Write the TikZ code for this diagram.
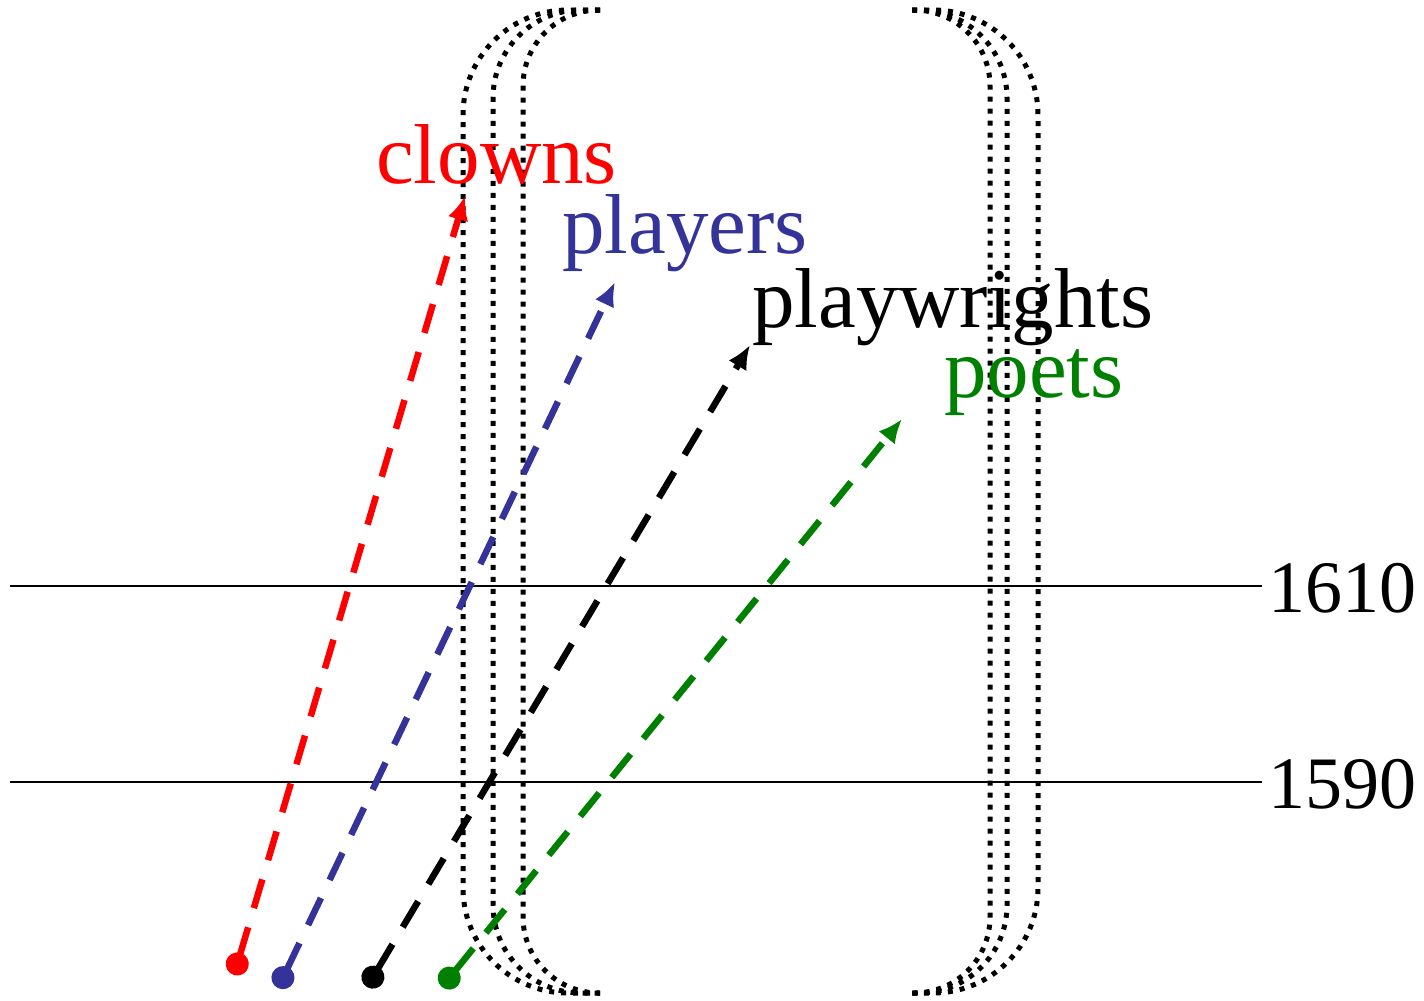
\documentclass[tikz,border=0pt]{standalone}
\usepackage{fontspec}
\setmainfont{Liberation Serif}
\usetikzlibrary{arrows.meta}
\definecolor{myred}{HTML}{FF0000}
\definecolor{myblue}{HTML}{333399}
\definecolor{mygreen}{HTML}{008000}
\tikzset{
  dotline/.style={line width=5pt, dash pattern=on 5pt off 7pt},
  flow/.style={line width=6.5pt, dash pattern=on 30pt off 20pt,
    {Circle[length=23pt]}-{Latex[length=24pt,width=21pt]}},
  lbl/.style={inner sep=0pt, anchor=base west, font=\fontsize{85}{100}\selectfont},
  yr/.style={inner sep=0pt, anchor=base west, font=\fontsize{74}{88}\selectfont},
  yline/.style={line width=1.5pt}
}
\begin{document}
\begin{tikzpicture}[x=1pt,y=-1pt]
\useasboundingbox (0,0) rectangle (1424,1001);
% brackets
\draw[dotline, rounded corners=105pt] (600,10) -- (463,10) -- (463,993) -- (600,993);
\draw[dotline, rounded corners=88pt] (600,10) -- (493,10) -- (493,993) -- (600,993);
\draw[dotline, rounded corners=76pt] (600,10) -- (523,10) -- (523,993) -- (600,993);
\draw[dotline, rounded corners=105pt] (912,10) -- (1038,10) -- (1038,993) -- (912,993);
\draw[dotline, rounded corners=88pt] (912,10) -- (1007,10) -- (1007,993) -- (912,993);
\draw[dotline, rounded corners=76pt] (912,10) -- (990,10) -- (990,993) -- (912,993);
% year lines
\coordinate (l1610a) at (10,586);
\coordinate (l1610b) at (1262,586);
\coordinate (l1590a) at (10,782);
\coordinate (l1590b) at (1262,782);
\draw[yline] (l1610a) -- (l1610b);
\draw[yline] (l1590a) -- (l1590b);
\node[yr] (y1610) at (1268,612) {1610};
\node[yr] (y1590) at (1268,808) {1590};
% labels
\node[lbl, text=myred] (clowns) at (376,183) {clowns};
\node[lbl, text=myblue] (players) at (562,253) {players};
\node[lbl, text=black] (playwrights) at (752,327) {playwrights};
\node[lbl, text=mygreen] (poets) at (944,397) {poets};
% arrows
\coordinate (sr) at (234,975); \coordinate (er) at (465,196);
\coordinate (sb) at (278,988); \coordinate (eb) at (615,282);
\coordinate (sk) at (367,987); \coordinate (ek) at (750,345);
\coordinate (sg) at (442,987); \coordinate (eg) at (902,419);
\draw[flow, myred] (sr) -- (er);
\draw[flow, myblue] (sb) -- (eb);
\draw[flow, black] (sk) -- (ek);
\draw[flow, mygreen] (sg) -- (eg);
\end{tikzpicture}
\end{document}
